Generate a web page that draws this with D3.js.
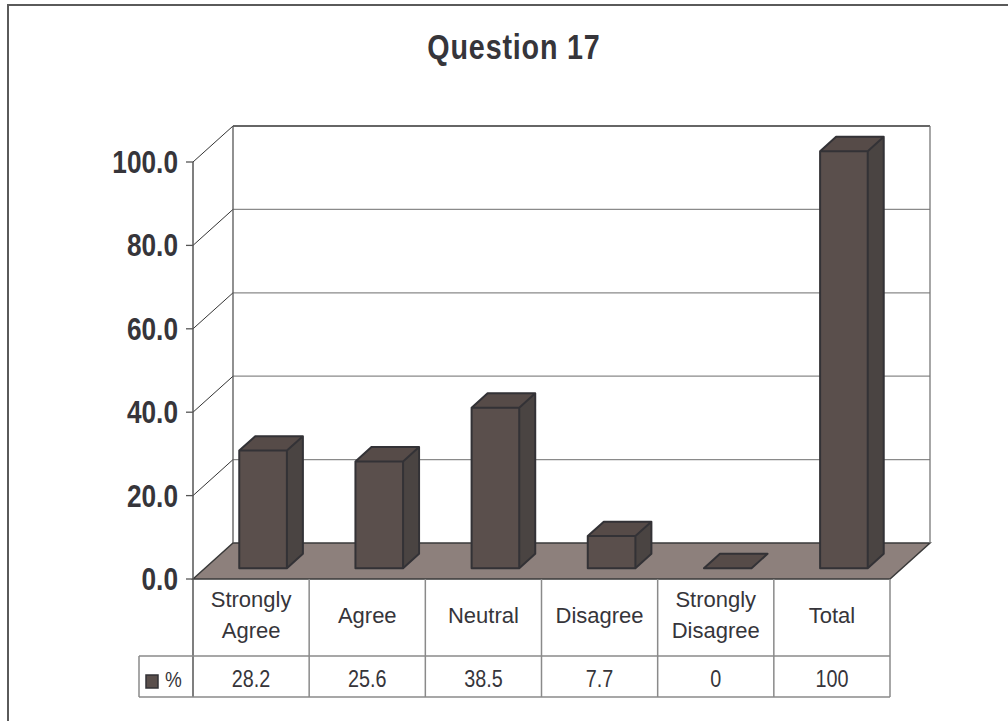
<!DOCTYPE html>
<html lang="en">
<head>
<meta charset="utf-8">
<title>Question 17</title>
<script src="https://cdn.jsdelivr.net/npm/d3@7"></script>
<style>
  body { margin: 0; background: #fff; }
  svg { display: block; }
</style>
</head>
<body>
<script>
// data
var categories = ["Strongly Agree", "Agree", "Neutral", "Disagree", "Strongly Disagree", "Total"];
var catLines = [["Strongly", "Agree"], ["Agree"], ["Neutral"], ["Disagree"], ["Strongly", "Disagree"], ["Total"]];
var values = [28.2, 25.6, 38.5, 7.7, 0, 100];
var valueLabels = ["28.2", "25.6", "38.5", "7.7", "0", "100"];
var yTicks = [0, 20, 40, 60, 80, 100];
var seriesName = "%";

var w = 1008, h = 721;
var font = "'Liberation Sans', Arial, sans-serif";
var ink = "#36353a";

// depth of the 3d box
var depX = 40, depY = -36;
var barF0 = 0.3, barF1 = 0.7;

var x = d3.scaleBand().domain(d3.range(categories.length)).range([193, 890]);
var y = d3.scaleLinear().domain([0, 100]).range([579, 162]);

var svg = d3.select("body").append("svg").attr("width", w).attr("height", h);

// squeezed text (the original uses a narrow face)
function squeeze(sx) {
  return function(sel) {
    sel.attr("transform", function() {
      var t = d3.select(this);
      var px = +t.attr("x"), py = +t.attr("y");
      return "translate(" + px + "," + py + ") scale(" + sx + ",1) translate(" + (-px) + "," + (-py) + ")";
    });
  };
}

// outer frame (cropped: only top and left show)
svg.append("path")
  .attr("d", "M8," + h + "V5H" + w)
  .attr("fill", "none").attr("stroke", "#5a5a5a").attr("stroke-width", 2);

// title
svg.append("text").text("Question 17")
  .attr("x", 514).attr("y", 59)
  .attr("text-anchor", "middle")
  .attr("font-family", font).attr("font-weight", "bold")
  .attr("font-size", "35px").attr("letter-spacing", "1px").attr("fill", ink)
  .call(squeeze(0.82));

var x0 = x.range()[0], x1 = x.range()[1];
var yb = y(0);

// floor
svg.append("path")
  .attr("d", "M" + x0 + "," + yb + "L" + (x0 + depX) + "," + (yb + depY) +
    "L" + (x1 + depX) + "," + (yb + depY) + "L" + x1 + "," + yb + "Z")
  .attr("fill", "#8d807c").attr("stroke", "#3a3a3a").attr("stroke-width", 1.5);

// back wall grid lines
svg.selectAll("line.grid")
  .data(yTicks.filter(function(d) { return d > 0; }))
  .enter().append("line")
  .attr("class", "grid")
  .attr("x1", x0 + depX).attr("x2", x1 + depX)
  .attr("y1", function(d) { return y(d) + depY; })
  .attr("y2", function(d) { return y(d) + depY; })
  .attr("stroke", function(d) { return d == 100 ? "#333" : "#8a8a8a"; })
  .attr("stroke-width", 1.3);

// side wall diagonals
svg.selectAll("line.diag")
  .data(yTicks.filter(function(d) { return d > 0; }))
  .enter().append("line")
  .attr("class", "diag")
  .attr("x1", x0).attr("x2", x0 + depX)
  .attr("y1", function(d) { return y(d); })
  .attr("y2", function(d) { return y(d) + depY; })
  .attr("stroke", "#333").attr("stroke-width", 1);

// wall verticals
svg.append("line")
  .attr("x1", x0 + depX).attr("x2", x0 + depX)
  .attr("y1", y(100) + depY).attr("y2", yb + depY)
  .attr("stroke", "#555").attr("stroke-width", 1.3);
svg.append("line")
  .attr("x1", x1 + depX).attr("x2", x1 + depX)
  .attr("y1", y(100) + depY).attr("y2", yb + depY)
  .attr("stroke", "#777").attr("stroke-width", 1.3);

// bars
var bw = x.bandwidth() * 0.41;
var bars = svg.selectAll("g.bar")
  .data(values)
  .enter().append("g").attr("class", "bar");

bars.each(function(d, i) {
  var g = d3.select(this);
  var cx = x(i) + x.bandwidth() / 2;
  var fx = cx - bw / 2 + barF0 * depX;
  var fyb = yb + barF0 * depY;
  var fyt = y(d) + barF0 * depY;
  var dx = (barF1 - barF0) * depX, dy = (barF1 - barF0) * depY;
  if (d > 0) {
    // front
    g.append("rect")
      .attr("x", fx).attr("y", fyt)
      .attr("width", bw).attr("height", fyb - fyt)
      .attr("fill", "#5a4f4c");
    // side
    g.append("path")
      .attr("d", "M" + (fx + bw) + "," + fyt + "L" + (fx + bw + dx) + "," + (fyt + dy) +
        "L" + (fx + bw + dx) + "," + (fyb + dy) + "L" + (fx + bw) + "," + fyb + "Z")
      .attr("fill", "#4a4442");
  }
  // top
  g.append("path")
    .attr("d", "M" + fx + "," + fyt + "L" + (fx + dx) + "," + (fyt + dy) +
      "L" + (fx + bw + dx) + "," + (fyt + dy) + "L" + (fx + bw) + "," + fyt + "Z")
    .attr("fill", "#564b48");
  // outlines
  var ol = d > 0
    ? "M" + fx + "," + fyb + "V" + fyt + "L" + (fx + dx) + "," + (fyt + dy) +
      "H" + (fx + bw + dx) + "V" + (fyb + dy) + "L" + (fx + bw) + "," + fyb + "Z" +
      "M" + fx + "," + fyt + "H" + (fx + bw) + "V" + fyb +
      "M" + (fx + bw) + "," + fyt + "L" + (fx + bw + dx) + "," + (fyt + dy)
    : "M" + fx + "," + fyt + "L" + (fx + dx) + "," + (fyt + dy) +
      "H" + (fx + bw + dx) + "L" + (fx + bw) + "," + fyt + "Z";
  g.append("path").attr("d", ol)
    .attr("fill", "none").attr("stroke", "#333236")
    .attr("stroke-width", 2).attr("stroke-linejoin", "round");
});

// front axis
svg.append("line")
  .attr("x1", x0).attr("x2", x0).attr("y1", y(100)).attr("y2", 697)
  .attr("stroke", "#555").attr("stroke-width", 1.5);

svg.selectAll("line.tick")
  .data(yTicks).enter().append("line")
  .attr("class", "tick")
  .attr("x1", x0 - 7).attr("x2", x0)
  .attr("y1", function(d) { return y(d); })
  .attr("y2", function(d) { return y(d); })
  .attr("stroke", "#555").attr("stroke-width", 1.3);

svg.selectAll("text.ylab")
  .data(yTicks).enter().append("text")
  .attr("class", "ylab")
  .text(function(d) { return d3.format(".1f")(d); })
  .attr("x", 178)
  .attr("y", function(d) { return y(d) + 11; })
  .attr("text-anchor", "end")
  .attr("font-family", font).attr("font-weight", "bold")
  .attr("font-size", "32px").attr("fill", ink)
  .call(squeeze(0.82));

// data table
var tTop = yb, tMid = 656, tBot = 697, legL = 139;
var tcol = "#8a8a8a";
svg.append("line").attr("x1", legL).attr("x2", x1).attr("y1", tMid).attr("y2", tMid)
  .attr("stroke", tcol).attr("stroke-width", 1.5);
svg.append("line").attr("x1", legL).attr("x2", x1).attr("y1", tBot).attr("y2", tBot)
  .attr("stroke", tcol).attr("stroke-width", 1.5);
svg.append("line").attr("x1", legL).attr("x2", legL).attr("y1", tMid).attr("y2", tBot)
  .attr("stroke", tcol).attr("stroke-width", 1.5);
svg.selectAll("line.col")
  .data(d3.range(1, categories.length + 1)).enter().append("line")
  .attr("class", "col")
  .attr("x1", function(i) { return i < categories.length ? x(i) : x1; })
  .attr("x2", function(i) { return i < categories.length ? x(i) : x1; })
  .attr("y1", tTop).attr("y2", tBot)
  .attr("stroke", tcol).attr("stroke-width", 1.5);

var head = svg.selectAll("text.cat")
  .data(catLines).enter().append("text")
  .attr("class", "cat")
  .attr("text-anchor", "middle")
  .attr("font-family", font).attr("font-size", "22px").attr("fill", ink);
head.each(function(lines, i) {
  var t = d3.select(this);
  var cx = x(i) + x.bandwidth() / 2;
  var base = lines.length == 1 ? 623 : 607;
  lines.forEach(function(s, k) {
    t.append("tspan").attr("x", cx).attr("y", base + k * 31).text(s);
  });
});

svg.selectAll("text.val")
  .data(valueLabels).enter().append("text")
  .attr("class", "val")
  .text(function(d) { return d; })
  .attr("x", function(d, i) { return x(i) + x.bandwidth() / 2; })
  .attr("y", 687)
  .attr("text-anchor", "middle")
  .attr("font-family", font).attr("font-size", "23px").attr("fill", ink)
  .call(squeeze(0.86));

// legend key
svg.append("rect")
  .attr("x", 146).attr("y", 675).attr("width", 12).attr("height", 13)
  .attr("fill", "#5a4f4c").attr("stroke", "#333236").attr("stroke-width", 1.5);
svg.append("text").text(seriesName)
  .attr("x", 165).attr("y", 687)
  .attr("font-family", font).attr("font-size", "22px").attr("fill", ink)
  .call(squeeze(0.86));
</script>
</body>
</html>
